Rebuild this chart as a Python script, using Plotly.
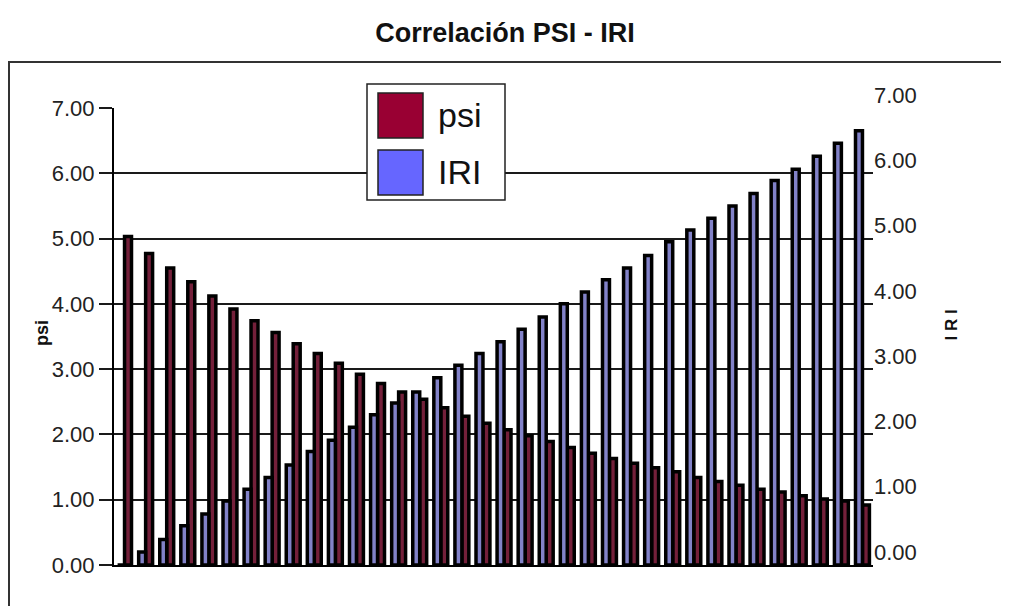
import plotly.graph_objects as go

# values (36 sections, no x labels shown)
tramos = [1, 2, 3, 4, 5, 6, 7, 8, 9, 10, 11, 12, 13, 14, 15, 16, 17, 18,
          19, 20, 21, 22, 23, 24, 25, 26, 27, 28, 29, 30, 31, 32, 33, 34, 35, 36]
psi = [5.03, 4.77, 4.55, 4.34, 4.12, 3.92, 3.74, 3.56, 3.39, 3.24, 3.09, 2.92,
       2.78, 2.65, 2.54, 2.41, 2.28, 2.17, 2.07, 1.98, 1.89, 1.80, 1.71, 1.63,
       1.56, 1.49, 1.43, 1.34, 1.28, 1.22, 1.16, 1.12, 1.06, 1.01, 0.98, 0.92]
iri = [0.00, 0.20, 0.39, 0.60, 0.78, 0.98, 1.16, 1.34, 1.53, 1.74, 1.91, 2.11,
       2.30, 2.48, 2.65, 2.87, 3.06, 3.24, 3.42, 3.61, 3.80, 4.00, 4.18, 4.37,
       4.55, 4.74, 4.95, 5.13, 5.31, 5.50, 5.69, 5.89, 6.06, 6.26, 6.46, 6.65]
y_ticks = [0, 1, 2, 3, 4, 5, 6, 7]

PSI_COLOR = "#990033"
IRI_COLOR = "#6666ff"
# the bars in the source read much darker than the legend swatches
PSI_BAR = "#74203a"
IRI_BAR = "#8282c8"
FONT = "Arial, Liberation Sans, sans-serif"

# the page body adds an 8px margin, so the figure is 8px smaller than the window
fig = go.Figure()
fig.add_trace(go.Bar(x=tramos, y=iri, name="IRI", yaxis="y2",
                     width=0.33, offset=-0.33,
                     marker=dict(color=IRI_BAR, line=dict(color="black", width=3.5))))
fig.add_trace(go.Bar(x=tramos, y=psi, name="psi",
                     width=0.33, offset=0.0,
                     marker=dict(color=PSI_BAR, line=dict(color="black", width=3.5))))

tick_text = [f"{v:.2f}" for v in y_ticks]
fig.update_layout(
    width=1001, height=598,
    margin=dict(l=106, r=136, t=100, b=41),
    paper_bgcolor="white", plot_bgcolor="white",
    showlegend=False, barmode="overlay",
    font=dict(family=FONT, color="black"),
    title=dict(text="<b>Correlación PSI - IRI</b>", x=497 / 1001, xanchor="center",
               y=1 - 25 / 598, yanchor="middle", yref="container",
               font=dict(size=27, family=FONT, color="#111")),
    xaxis=dict(range=[0.5, 36.5], showticklabels=False, ticks="", showgrid=False,
               showline=True, linecolor="black", linewidth=2, zeroline=False),
    yaxis=dict(range=[0, 7], tickvals=y_ticks, ticktext=tick_text,
               showgrid=True, gridcolor="#1a1a1a", gridwidth=1.8,
               showline=True, linecolor="black", linewidth=2,
               ticks="outside", ticklen=13, tickwidth=1.8, tickcolor="#1a1a1a",
               tickfont=dict(size=22, family=FONT, color="#222"), zeroline=False),
    yaxis2=dict(range=[0, 7], tickvals=y_ticks, ticktext=tick_text, overlaying="y",
                side="right", showgrid=False, showline=False, ticks="",
                ticklabelshift=-13,
                tickfont=dict(size=22, family=FONT, color="#222"), zeroline=False),
)


def px_x(px):
    return (px - 114) / 759


def px_y(py):
    return (565 - py) / 457


# axis titles
fig.add_annotation(text="<b>psi</b>", xref="paper", yref="paper", x=px_x(30),
                   y=px_y(333), textangle=-90, showarrow=False,
                   font=dict(size=18, family=FONT, color="#111"))
fig.add_annotation(text="<b>I R I</b>", xref="paper", yref="paper", x=px_x(962),
                   y=px_y(325), textangle=-90, showarrow=False,
                   font=dict(size=17, family=FONT, color="#111"))

# outer chart frame
fig.add_shape(type="rect", xref="paper", yref="paper",
              x0=px_x(9), x1=1.3, y0=-0.3, y1=px_y(62),
              line=dict(color="#333", width=2), fillcolor="rgba(0,0,0,0)", layer="below")

# legend box drawn by hand (plotly caps legend symbol size)
fig.add_shape(type="rect", xref="paper", yref="paper",
              x0=px_x(367), x1=px_x(505), y0=px_y(200), y1=px_y(84),
              line=dict(color="#222", width=1.5), fillcolor="white", layer="above")
for name, color, top in [("psi", PSI_COLOR, 93), ("IRI", IRI_COLOR, 150)]:
    fig.add_shape(type="rect", xref="paper", yref="paper",
                  x0=px_x(378), x1=px_x(423), y0=px_y(top + 45), y1=px_y(top),
                  line=dict(color="#222", width=1.5), fillcolor=color, layer="above")
    fig.add_annotation(text=name, xref="paper", yref="paper", x=px_x(436),
                       y=px_y(top + 22), xanchor="left", yanchor="middle", showarrow=False,
                       font=dict(size=34, family=FONT, color="#111"))

fig.write_html("out.html")
